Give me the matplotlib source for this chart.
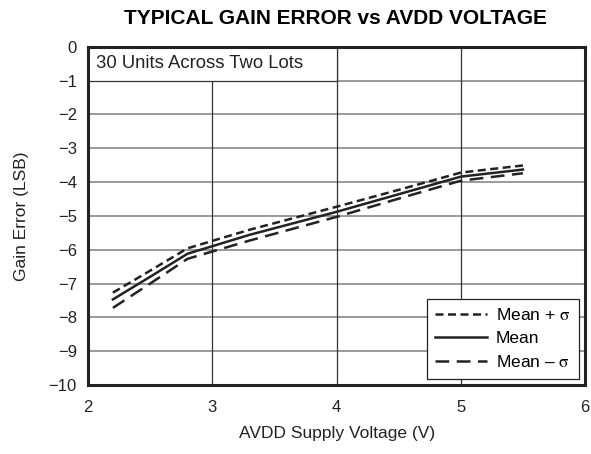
import matplotlib.pyplot as plt
from matplotlib.patches import Rectangle

plt.rcParams['font.family'] = ['Liberation Sans', 'DejaVu Sans']
plt.rcParams['mathtext.fontset'] = 'stix'

# AVDD supply voltage (V)
voltage = [2.2, 2.5, 2.8, 3.3, 4.0, 4.5, 5.0, 5.5]
# gain error (LSB)
mean_err = [-7.47, -6.80, -6.12, -5.56, -4.88, -4.36, -3.84, -3.63]
plus_sigma = [-7.27, -6.62, -5.96, -5.41, -4.73, -4.23, -3.72, -3.51]
minus_sigma = [-7.72, -7.00, -6.27, -5.73, -5.03, -4.49, -3.96, -3.74]

x_ticks = [2, 3, 4, 5, 6]
y_ticks = list(range(-10, 1))

fig = plt.figure(figsize=(5.91, 4.54), dpi=100)
ax = fig.add_axes([0.149, 0.152, 0.841, 0.745])

ax.plot(voltage, plus_sigma, color='#222222', lw=1.8, dashes=(3.2, 1.8),
        label=r'Mean + $\mathrm{\sigma}$')
ax.plot(voltage, mean_err, color='#222222', lw=1.8, label='Mean')
ax.plot(voltage, minus_sigma, color='#222222', lw=1.8, dashes=(5.5, 3),
        label='Mean \u2013 $\\mathrm{\\sigma}$')

ax.set_xlim(2, 6)
ax.set_ylim(-10, 0)
ax.set_xticks(x_ticks)
ax.set_yticks(y_ticks)
ax.set_xticklabels([str(t) for t in x_ticks])
ax.set_yticklabels([str(t).replace('-', '\u2212') for t in y_ticks])
ax.tick_params(length=0, labelsize=12, colors='#222222')
ax.tick_params(axis='x', pad=11)
ax.tick_params(axis='y', pad=8)

for t in y_ticks[1:-1]:
    ax.axhline(t, color='#888888', lw=1.2, zorder=0)
for t in x_ticks[1:-1]:
    ax.axvline(t, color='#333333', lw=0.9, zorder=0)

for sp in ax.spines.values():
    sp.set_linewidth(2.2)
    sp.set_color('#222222')

# label cell in the top-left corner
ax.add_patch(Rectangle((2, -1), 2, 1, facecolor='white', edgecolor='#333333',
                       lw=0.9, zorder=1))
ax.text(2.06, -0.5, '30 Units Across Two Lots', ha='left', va='center',
        fontsize=13.3, color='#222222', zorder=2)

leg = ax.legend(loc='lower right', fontsize=12.5, frameon=True, fancybox=False,
                handlelength=3.0, borderaxespad=0.35, labelspacing=0.45,
                handletextpad=0.5, borderpad=0.5)
leg.get_frame().set_edgecolor('#222222')
leg.get_frame().set_linewidth(0.9)
leg.get_frame().set_alpha(1)

ax.set_xlabel('AVDD Supply Voltage (V)', fontsize=12.5, color='#222222', labelpad=8)
ax.set_ylabel('Gain Error (LSB)', fontsize=12.5, color='#222222', labelpad=14)
fig.suptitle('TYPICAL GAIN ERROR vs AVDD VOLTAGE', fontsize=15, fontweight='bold',
             x=0.567, y=0.98)

fig.savefig('out.png', dpi=100)
